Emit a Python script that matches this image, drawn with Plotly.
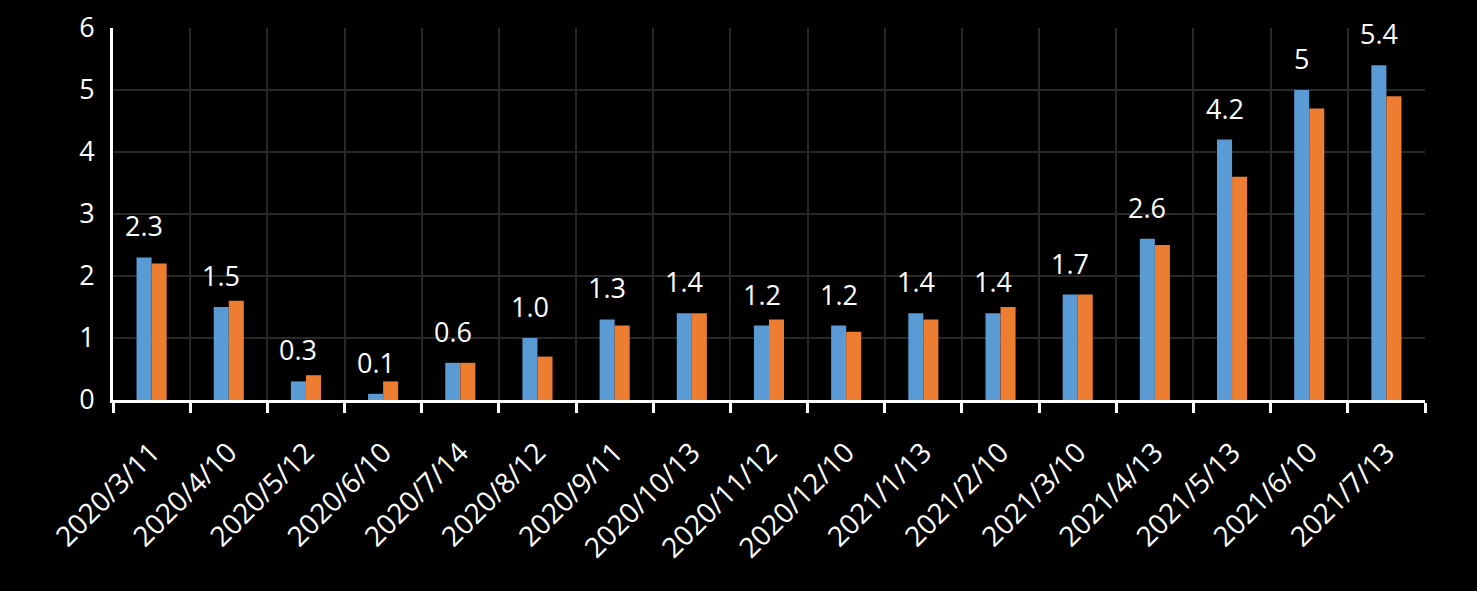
import plotly.graph_objects as go

categories = ["2020/3/11", "2020/4/10", "2020/5/12", "2020/6/10", "2020/7/14",
              "2020/8/12", "2020/9/11", "2020/10/13", "2020/11/12", "2020/12/10",
              "2021/1/13", "2021/2/10", "2021/3/10", "2021/4/13", "2021/5/13",
              "2021/6/10", "2021/7/13"]
blue_values = [2.3, 1.5, 0.3, 0.1, 0.6, 1.0, 1.3, 1.4, 1.2, 1.2, 1.4, 1.4, 1.7, 2.6, 4.2, 5.0, 5.4]
orange_values = [2.2, 1.6, 0.4, 0.3, 0.6, 0.7, 1.2, 1.4, 1.3, 1.1, 1.3, 1.5, 1.7, 2.5, 3.6, 4.7, 4.9]
blue_labels = ["2.3", "1.5", "0.3", "0.1", "0.6", "1.0", "1.3", "1.4", "1.2", "1.2",
               "1.4", "1.4", "1.7", "2.6", "4.2", "5", "5.4"]
y_ticks = [0, 1, 2, 3, 4, 5, 6]

FONT = "Open Sans, Noto Sans, sans-serif"

fig = go.Figure()
fig.add_trace(go.Bar(x=categories, y=blue_values, name="A",
                     marker=dict(color="#5B9BD5", line=dict(width=0))))
fig.add_trace(go.Bar(x=categories, y=orange_values, name="B",
                     marker=dict(color="#ED7D31", line=dict(width=0))))

for c, v, t in zip(categories, blue_values, blue_labels):
    fig.add_annotation(x=c, y=v, xref="x", yref="y", text=t, showarrow=False,
                       xanchor="center", yanchor="bottom", xshift=-7.5, yshift=11,
                       font=dict(family=FONT, size=27, color="white"))

fig.update_layout(
    width=1477, height=591,
    paper_bgcolor="black", plot_bgcolor="black",
    margin=dict(l=113, r=52, t=28, b=191),
    barmode="group", bargap=0.61, bargroupgap=0,
    showlegend=False,
    font=dict(family=FONT, color="white", size=27),
)
fig.update_xaxes(
    type="category", tickson="boundaries", showgrid=True, gridcolor="#282828", gridwidth=2,
    showline=True, linecolor="white", linewidth=3,
    ticks="outside", ticklen=10, tickwidth=3, tickcolor="white",
    tickangle=-45, automargin=False, ticklabelstandoff=22,
    tickfont=dict(family=FONT, size=28, color="white"),
)
fig.update_yaxes(
    range=[0, 6], tickvals=y_ticks, showgrid=True, gridcolor="#282828", gridwidth=2,
    showline=True, linecolor="white", linewidth=3, zeroline=False, automargin=False,
    ticks="", ticklabelstandoff=10, tickfont=dict(family=FONT, size=27, color="white"),
)

fig.write_html(
    "out.html",
    config={"displayModeBar": False},
    post_script="document.body.style.margin='0';document.body.style.background='black';"
                "document.documentElement.style.background='black';",
)
